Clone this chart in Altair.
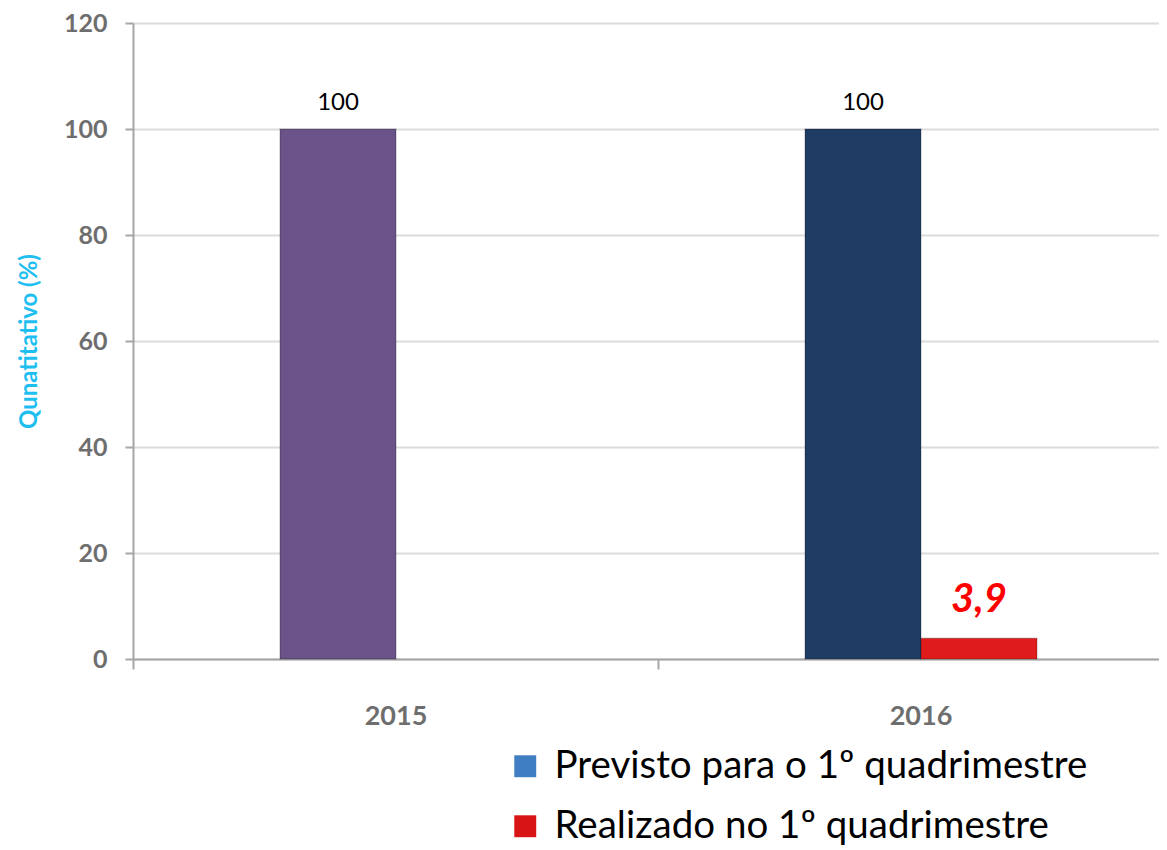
import altair as alt
import pandas as pd

anos = ["2015", "2016", "2016"]
series = ["Previsto para o 1º quadrimestre", "Previsto para o 1º quadrimestre", "Realizado no 1º quadrimestre"]
valores = [100, 100, 3.9]
rotulos = ["100", "100", "3,9"]
cores_barras = ["#6A5388", "#1F3D64", "#E01B1B"]

legenda_series = ["Previsto para o 1º quadrimestre", "Realizado no 1º quadrimestre"]
legenda_cores = ["#3F7EC3", "#D91414"]

y_ticks = [0, 20, 40, 60, 80, 100, 120]

df = pd.DataFrame({
    "ano": anos,
    "serie": series,
    "valor": valores,
    "rotulo": rotulos,
    "cor": cores_barras,
    "zero": [0, 0, 0],
})

FONT = "Lato"

x_enc = alt.X(
    "ano:N",
    scale=alt.Scale(range=[0, 1050], paddingInner=0, paddingOuter=0),
    axis=alt.Axis(
        title=None, labelAngle=0, labelFont=FONT, labelFontSize=27, labelFontWeight="bold",
        labelColor="#6E6E6E", labelPadding=34, tickBand="extent", tickSize=10,
        tickColor="#A6A6A6", tickWidth=2, domainColor="#A6A6A6", domainWidth=2, grid=False,
    ),
)
xoff = alt.XOffset(
    "serie:N",
    scale=alt.Scale(domain=legenda_series, range=[147, 379], paddingInner=0, paddingOuter=0),
)
y_enc = alt.Y(
    "valor:Q",
    scale=alt.Scale(domain=[0, 120], nice=False),
    axis=alt.Axis(
        title="Qunatitativo (%)", titleFont=FONT, titleFontSize=24, titleFontWeight="bold",
        titleColor="#1EBFF0", titlePadding=22, values=y_ticks, labelFont=FONT, labelFontSize=25,
        labelFontWeight="bold", labelColor="#6E6E6E", labelPadding=18, tickSize=8,
        tickColor="#A6A6A6", tickWidth=2, domainColor="#A6A6A6", domainWidth=2,
        gridColor="#DCDCDC", gridWidth=2,
    ),
)

base = alt.Chart(df)

bars = base.mark_bar(strokeWidth=1.5, stroke="#00000030").encode(
    x=x_enc, xOffset=xoff, y=y_enc,
    fill=alt.Fill("cor:N", scale=None),
)

legend_layer = base.mark_bar().encode(
    x=x_enc, xOffset=xoff, y=alt.Y("zero:Q"),
    color=alt.Color(
        "serie:N",
        scale=alt.Scale(domain=legenda_series, range=legenda_cores),
        legend=alt.Legend(
            title=None, orient="none", legendX=373, legendY=724, symbolType="square",
            symbolSize=480, symbolStrokeWidth=0, labelFont=FONT, labelFontSize=38.5,
            labelColor="#000000", rowPadding=21, labelOffset=10, labelLimit=900,
        ),
    ),
)

labels_100 = base.transform_filter("datum.valor >= 50").mark_text(
    font=FONT, fontSize=24, color="#000000", dy=-14, baseline="bottom"
).encode(x=x_enc, xOffset=xoff, y=y_enc, text="rotulo:N")

label_real = base.transform_filter("datum.valor < 50").mark_text(
    font=FONT, fontSize=40, fontWeight="bold", fontStyle="italic", color="#FF0000",
    dy=-18, baseline="bottom"
).encode(x=x_enc, xOffset=xoff, y=y_enc, text="rotulo:N")

chart = alt.layer(bars, legend_layer, labels_100, label_real).properties(
    width=1026, height=636,
    autosize=alt.AutoSizeParams(type="none"),
    padding={"left": 125, "top": 15, "right": 0, "bottom": 190},
).configure_view(stroke=None)

chart.save("out.html", embed_options={"renderer": "svg", "actions": False})
